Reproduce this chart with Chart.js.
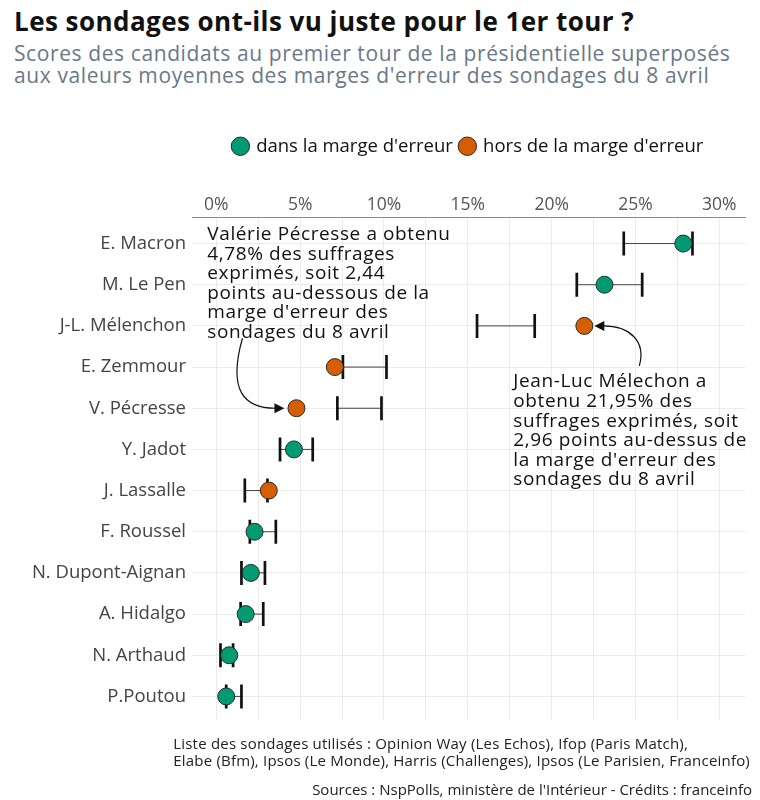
<!DOCTYPE html>
<html lang="fr">
<head>
<meta charset="utf-8">
<title>Les sondages ont-ils vu juste pour le 1er tour ?</title>
<script src="https://cdn.jsdelivr.net/npm/chart.js@4.4.1/dist/chart.umd.min.js"></script>
<style>
  body { margin: 0; width: 760px; height: 800px; background: #fff; position: relative; overflow: hidden; font-family: "Open Sans", sans-serif; }
  h1 { position: absolute; left: 14px; top: 4px; margin: 0; font-size: 26px; letter-spacing: 0.45px; font-weight: 700; color: #111; line-height: 34px; white-space: nowrap; }
  .sous-titre { position: absolute; left: 14px; top: 42px; margin: 0; font-size: 21px; letter-spacing: 0.6px; color: #697889; line-height: 22px; white-space: nowrap; }
  #graphique { position: absolute; left: 0; top: 129px; }
  .notes { position: absolute; right: 10px; top: 735px; font-size: 15px; letter-spacing: 0.2px; color: #222; line-height: 17px; white-space: nowrap; }
  .sources { position: absolute; right: 8px; top: 779px; font-size: 15px; color: #222; white-space: nowrap; }
</style>
</head>
<body>
<h1>Les sondages ont-ils vu juste pour le 1er tour ?</h1>
<p class="sous-titre">Scores des candidats au premier tour de la présidentielle superposés<br>aux valeurs moyennes des marges d'erreur des sondages du 8 avril</p>
<canvas id="graphique" width="760" height="606"></canvas>
<div class="notes">Liste des sondages utilisés : Opinion Way (Les Echos), Ifop (Paris Match),<br>Elabe (Bfm), Ipsos (Le Monde), Harris (Challenges), Ipsos (Le Parisien, Franceinfo)</div>
<div class="sources">Sources : NspPolls, ministère de l'Intérieur - Crédits : franceinfo</div>
<script>
// données
const candidats = ['E. Macron', 'M. Le Pen', 'J-L. Mélenchon', 'E. Zemmour', 'V. Pécresse', 'Y. Jadot',
  'J. Lassalle', 'F. Roussel', 'N. Dupont-Aignan', 'A. Hidalgo', 'N. Arthaud', 'P.Poutou'];
const scores = [27.85, 23.15, 21.95, 7.07, 4.78, 4.63, 3.13, 2.28, 2.06, 1.75, 0.77, 0.59];
const margeBasse = [24.3, 21.5, 15.55, 7.55, 7.22, 3.8, 1.7, 2.0, 1.5, 1.45, 0.25, 0.59];
const margeHaute = [28.4, 25.4, 18.99, 10.15, 9.85, 5.75, 3.05, 3.55, 2.9, 2.8, 1.0, 1.5];
const ticksX = [0, 5, 10, 15, 20, 25, 30];

const VERT = '#009b72';
const ORANGE = '#d55e00';

// points dans / hors de la marge
const dedans = [];
const dehors = [];
candidats.forEach((c, i) => {
  const p = { x: scores[i], y: i };
  if (scores[i] >= margeBasse[i] && scores[i] <= margeHaute[i]) dedans.push(p);
  else dehors.push(p);
});

// segments des marges (null = coupure)
const segments = candidats.flatMap((c, i) => [
  { x: margeBasse[i], y: i }, { x: margeHaute[i], y: i }, { x: margeHaute[i], y: null }
]);
const bornes = candidats.flatMap((c, i) => [{ x: margeBasse[i], y: i }, { x: margeHaute[i], y: i }]);

// annotations (texte + flèche)
const notes = [
  {
    lignes: ['Valérie Pécresse a obtenu', '4,78% des suffrages', 'exprimés, soit 2,44',
      'points au-dessous de la', "marge d'erreur des", 'sondages du 8 avril'],
    texte: { x: 0, y: 0, dx: -9, dy: -9 },
    cible: { x: 4.78, y: 4 },
    fleche: [[-54, -70], [-69, -17], [-52, 0], [-21, 0]]
  },
  {
    lignes: ['Jean-Luc Mélechon a', 'obtenu 21,95% des', 'suffrages exprimés, soit',
      '2,96 points au-dessus de', "la marge d'erreur des", 'sondages du 8 avril'],
    texte: { x: 21.95, y: 2, dx: -71, dy: 56 },
    cible: { x: 21.95, y: 2 },
    fleche: [[55, 40], [62, 15], [45, 0], [19, 0]]
  }
];

const pluginNotes = {
  id: 'notes',
  afterDatasetsDraw(chart) {
    const ctx = chart.ctx;
    const sx = chart.scales.x, sy = chart.scales.y;
    ctx.save();
    notes.forEach(n => {
      ctx.fillStyle = '#111';
      ctx.font = '19px "Open Sans"';
      ctx.letterSpacing = '0.6px';
      ctx.textBaseline = 'middle';
      ctx.textAlign = 'left';
      const tx = sx.getPixelForValue(n.texte.x) + n.texte.dx;
      const ty = sy.getPixelForValue(n.texte.y) + n.texte.dy;
      n.lignes.forEach((l, k) => ctx.fillText(l, tx, ty + k * 19.6));

      const cx = sx.getPixelForValue(n.cible.x);
      const cy = sy.getPixelForValue(n.cible.y);
      const f = n.fleche;
      ctx.strokeStyle = '#111';
      ctx.lineWidth = 1.2;
      ctx.beginPath();
      ctx.moveTo(cx + f[0][0], cy + f[0][1]);
      ctx.bezierCurveTo(cx + f[1][0], cy + f[1][1], cx + f[2][0], cy + f[2][1], cx + f[3][0], cy + f[3][1]);
      ctx.stroke();
      // pointe
      const dir = Math.sign(f[3][0]);
      const px = cx + f[3][0] - dir * 9;
      ctx.fillStyle = '#111';
      ctx.beginPath();
      ctx.moveTo(px, cy);
      ctx.lineTo(px + dir * 10, cy - 5);
      ctx.lineTo(px + dir * 10, cy + 5);
      ctx.closePath();
      ctx.fill();
    });
    ctx.restore();
  }
};

function initGraphique() {
  const ctx = document.getElementById('graphique').getContext('2d');
  new Chart(ctx, {
    type: 'scatter',
    data: {
      datasets: [
        {
          label: "dans la marge d'erreur",
          data: dedans,
          backgroundColor: VERT,
          borderColor: '#2a2a2a',
          borderWidth: 1,
          pointRadius: 8.5,
          pointStyle: 'circle',
          order: 1
        },
        {
          label: "hors de la marge d'erreur",
          data: dehors,
          backgroundColor: ORANGE,
          borderColor: '#2a2a2a',
          borderWidth: 1,
          pointRadius: 8.5,
          pointStyle: 'circle',
          order: 1
        },
        {
          label: 'bornes',
          data: bornes,
          pointStyle: 'line',
          rotation: 90,
          pointRadius: 12,
          borderWidth: 2.7,
          borderColor: '#111',
          order: 2
        },
        {
          type: 'line',
          label: 'marges',
          data: segments,
          borderColor: '#444',
          borderWidth: 1,
          pointRadius: 0,
          spanGaps: false,
          order: 3
        }
      ]
    },
    options: {
      responsive: false,
      animation: false,
      events: [],
      layout: { padding: { left: 0, right: 12, top: 0, bottom: 2 } },
      scales: {
        x: {
          type: 'linear',
          position: 'top',
          min: -1.45,
          max: 31.55,
          afterBuildTicks: axis => {
            axis.ticks = ticksX.flatMap(v => v < 30 ? [{ value: v }, { value: v + 2.5 }] : [{ value: v }]);
          },
          afterFit: axis => { axis.height = 52; },
          ticks: {
            callback: v => v % 5 === 0 ? v + '%' : '',
            color: '#555',
            font: { family: '"Open Sans"', size: 17.5 },
            padding: 2,
            maxRotation: 0,
            autoSkip: false
          },
          grid: { color: '#ececec', lineWidth: 1, drawTicks: false },
          border: { display: true, color: '#8c8c8c', width: 1 }
        },
        y: {
          type: 'linear',
          reverse: true,
          min: -0.633,
          max: 11.58,
          afterBuildTicks: axis => {
            axis.ticks = candidats.map((c, i) => ({ value: i }));
          },
          afterFit: axis => {
            axis.width = 192;
            axis.paddingTop = 0;
            axis.paddingBottom = 0;
          },
          ticks: {
            callback: v => candidats[v],
            color: '#444',
            font: { family: '"Open Sans"', size: 18.5 },
            padding: 6,
            autoSkip: false
          },
          grid: { color: '#ececec', lineWidth: 1, drawTicks: false },
          border: { display: false }
        }
      },
      plugins: {
        legend: {
          position: 'top',
          fullSize: false,
          labels: {
            filter: item => item.datasetIndex < 2,
            usePointStyle: true,
            boxWidth: 13,
            boxHeight: 13,
            padding: 8,
            color: '#111',
            font: { family: '"Open Sans"', size: 18.5 }
          }
        },
        tooltip: { enabled: false }
      }
    },
    plugins: [pluginNotes]
  });
}

document.addEventListener('DOMContentLoaded', initGraphique);
</script>
</body>
</html>
